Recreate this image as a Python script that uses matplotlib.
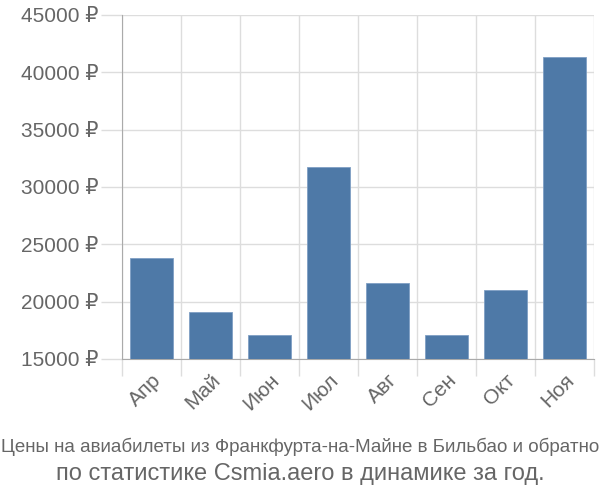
import numpy as np
import matplotlib.pyplot as plt
from matplotlib.ticker import FixedLocator

months = ['Апр', 'Май', 'Июн', 'Июл', 'Авг', 'Сен', 'Окт', 'Ноя']
prices = [23800, 19100, 17060, 31770, 21600, 17060, 21040, 41300]
yticks = [15000, 20000, 25000, 30000, 35000, 40000, 45000]

plt.rcParams['font.family'] = ['Liberation Sans', 'DejaVu Sans']

fig = plt.figure(figsize=(6, 5), dpi=100)
ax = fig.add_axes([0.2033, 0.282, 0.7867, 0.688])

x = np.arange(len(months))
ax.bar(x, np.array(prices) - 15000, bottom=15000, width=0.72,
       color='#4e79a7', edgecolor='#7f9fc4', linewidth=0.6, zorder=3)

ax.set_xlim(-0.5, len(months) - 0.5)
ax.set_ylim(15000, 45000)

# grid lines on category boundaries
ax.xaxis.set_minor_locator(FixedLocator(np.arange(-0.5, len(months), 1)))
ax.set_xticks(x)
ax.set_xticklabels(months, rotation=45, ha='right', rotation_mode='anchor')
ax.tick_params(axis='x', which='major', length=0, pad=8,
               labelsize=15, labelcolor='#666666')
ax.tick_params(axis='x', which='minor', length=12, color='#dddddd', width=1)
ax.grid(axis='x', which='minor', color='#dddddd', lw=1, zorder=0)

ax.set_yticks(yticks)
ax.set_yticklabels([f'{v} ₽' for v in yticks])
ax.tick_params(axis='y', length=15, color='#dddddd', width=1, pad=2,
               labelsize=15, labelcolor='#666666')
ax.grid(axis='y', color='#dddddd', lw=1, zorder=0)

for s in ['top', 'right']:
    ax.spines[s].set_visible(False)
ax.spines['left'].set_color('#aaaaaa')
ax.spines['bottom'].set_color('#aaaaaa')

fig.text(0.5, 0.106, 'Цены на авиабилеты из Франкфурта-на-Майне в Бильбао и обратно',
         ha='center', va='center', fontsize=13.5, color='#666666',
         family=['Liberation Sans Narrow', 'Liberation Sans', 'DejaVu Sans'])
fig.text(0.5, 0.052, 'по статистике Csmia.aero в динамике за год.',
         ha='center', va='center', fontsize=17, color='#666666')

fig.savefig('out.png', dpi=100)
